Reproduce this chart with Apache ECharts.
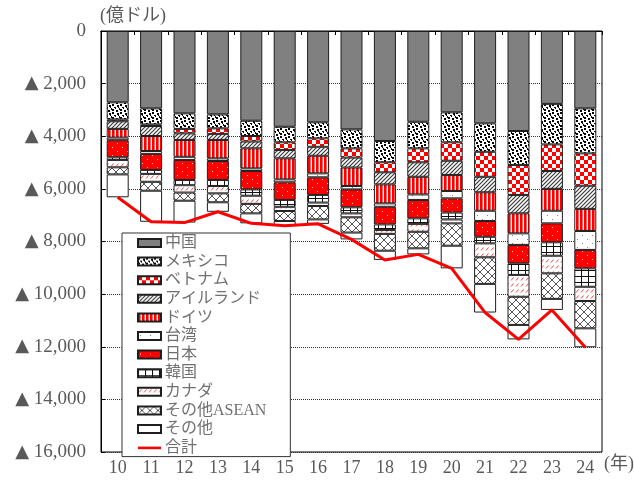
<!DOCTYPE html>
<html>
<head>
<meta charset="utf-8">
<script src="https://cdn.jsdelivr.net/npm/echarts@6/dist/echarts.min.js"></script>
<style>
  html, body { margin: 0; padding: 0; background: #fff; }
  #chart { width: 634px; height: 481px; }
</style>
</head>
<body>
<div id="chart"></div>
<script>
// 年（2010〜2024）
const years = ['10', '11', '12', '13', '14', '15', '16', '17', '18', '19', '20', '21', '22', '23', '24'];

// 国・地域別の赤字額（億ドル、正の値で保持し軸で▲表示）
const china   = [2710, 2940, 3130, 3170, 3410, 3640, 3470, 3740, 4180, 3450, 3090, 3510, 3800, 2770, 2940];
const mexico  = [650, 610, 590, 530, 580, 590, 610, 720, 810, 1010, 1140, 1080, 1290, 1540, 1710];
const vietnam = [70, 60, 170, 210, 210, 290, 320, 350, 380, 530, 700, 950, 1140, 1010, 1230];
const ireland = [290, 380, 250, 230, 260, 320, 340, 380, 460, 550, 540, 590, 700, 680, 880];
const germany = [330, 570, 640, 700, 760, 800, 670, 700, 720, 670, 610, 700, 760, 830, 840];
const taiwan  = [100, 110, 120, 100, 100, 110, 150, 130, 130, 210, 280, 390, 440, 480, 720];
const japan   = [650, 610, 760, 720, 700, 670, 670, 680, 670, 700, 540, 600, 700, 720, 700];
const korea   = [100, 150, 200, 230, 240, 260, 290, 230, 210, 210, 260, 250, 440, 510, 700];
const canada  = [280, 300, 280, 280, 310, 160, 130, 150, 150, 300, 150, 530, 830, 670, 540];
const asean   = [270, 340, 310, 340, 360, 380, 510, 580, 640, 630, 850, 1010, 1070, 970, 1040];
const others  = [870, 1180, 830, 360, 380, 180, 170, 260, 350, 230, 860, 1090, 550, 420, 720];
const total   = [6320, 7250, 7280, 6870, 7310, 7400, 7330, 7920, 8700, 8490, 9020, 10700, 11720, 10600, 12020];

// 縦軸目盛ラベル（▲はマイナスを示す）
const yTickLabels = ['0', '▲ 2,000', '▲ 4,000', '▲ 6,000', '▲ 8,000', '▲ 10,000', '▲ 12,000', '▲ 14,000', '▲ 16,000'];

// ---- 塗りパターン ----
function tile(w, h, draw) {
  const c = document.createElement('canvas');
  c.width = w; c.height = h;
  const g = c.getContext('2d');
  draw(g, w, h);
  return { image: c, repeat: 'repeat' };
}
const RED = '#ff0000';
const patterns = {
  gray: '#808080',
  confetti: tile(8, 8, (g) => {
    g.fillStyle = '#fff'; g.fillRect(0, 0, 8, 8);
    g.fillStyle = '#000';
    [[0,0,2,2],[5,1,2,2],[2,3,2,1],[7,4,1,2],[0,5,2,2],[4,6,2,2],[3,4,1,1],[6,3,1,1]].forEach(r => g.fillRect(r[0], r[1], r[2], r[3]));
  }),
  checker: tile(8, 8, (g) => {
    g.fillStyle = '#fff'; g.fillRect(0, 0, 8, 8);
    g.fillStyle = RED; g.fillRect(0, 0, 4, 4); g.fillRect(4, 4, 4, 4);
  }),
  diag: tile(4, 4, (g) => {
    g.fillStyle = '#fff'; g.fillRect(0, 0, 4, 4);
    g.strokeStyle = '#3a3a3a'; g.lineWidth = 1.2;
    g.beginPath();
    g.moveTo(-1, 5); g.lineTo(5, -1);
    g.moveTo(-1, 1); g.lineTo(1, -1);
    g.moveTo(3, 5); g.lineTo(5, 3);
    g.stroke();
  }),
  vstripe: tile(4, 4, (g) => {
    g.fillStyle = '#fff'; g.fillRect(0, 0, 4, 4);
    g.fillStyle = RED; g.fillRect(0, 0, 2.6, 4);
  }),
  dotsWhite: tile(10, 8, (g) => {
    g.fillStyle = '#fff'; g.fillRect(0, 0, 10, 8);
    g.fillStyle = '#888'; g.fillRect(2, 3, 1, 1); g.fillRect(7, 7, 1, 1);
  }),
  dotsRed: tile(10, 8, (g) => {
    g.fillStyle = RED; g.fillRect(0, 0, 10, 8);
    g.fillStyle = '#ffd0d0'; g.fillRect(2, 3, 1, 1); g.fillRect(7, 7, 1, 1);
  }),
  grid: tile(7, 6, (g) => {
    g.fillStyle = '#fff'; g.fillRect(0, 0, 7, 6);
    g.fillStyle = '#111'; g.fillRect(0, 0, 7, 1); g.fillRect(0, 0, 1, 6);
  }),
  redDash: tile(5, 6, (g) => {
    g.fillStyle = '#fff'; g.fillRect(0, 0, 5, 6);
    g.strokeStyle = '#ff4040'; g.lineWidth = 1;
    g.beginPath(); g.moveTo(1, 4.5); g.lineTo(3.5, 1.5); g.stroke();
  }),
  cross: tile(8, 8, (g) => {
    g.fillStyle = '#fff'; g.fillRect(0, 0, 8, 8);
    g.strokeStyle = '#555'; g.lineWidth = 1;
    g.beginPath();
    g.moveTo(0, 0); g.lineTo(8, 8);
    g.moveTo(0, 8); g.lineTo(8, 0);
    g.stroke();
  }),
  white: '#ffffff'
};

const barDefs = [
  ['中国', china, patterns.gray],
  ['メキシコ', mexico, patterns.confetti],
  ['ベトナム', vietnam, patterns.checker],
  ['アイルランド', ireland, patterns.diag],
  ['ドイツ', germany, patterns.vstripe],
  ['台湾', taiwan, patterns.dotsWhite],
  ['日本', japan, patterns.dotsRed],
  ['韓国', korea, patterns.grid],
  ['カナダ', canada, patterns.redDash],
  ['その他ASEAN', asean, patterns.cross],
  ['その他', others, patterns.white]
];

const FONT = '"Liberation Serif", "Times New Roman", "Noto Sans CJK JP", serif';
const LABEL_GRAY = '#595959';

const series = barDefs.map(([name, data, fill]) => ({
  name: name,
  type: 'bar',
  stack: 'deficit',
  data: data,
  barWidth: 22,
  itemStyle: { color: fill, borderColor: '#1e1e1e', borderWidth: 1 },
  emphasis: { disabled: true }
}));
series.push({
  name: '合計',
  type: 'line',
  data: total,
  symbol: 'none',
  lineStyle: { color: RED, width: 3 },
  itemStyle: { color: RED },
  z: 5,
  emphasis: { disabled: true }
});

// 凡例用の横線アイコン（上下に余白を持たせた帯）
const LINE_ICON = 'path://M0,0 M0,8 M0,3 L23,3 L23,5.6 L0,5.6 Z';

const chart = echarts.init(document.getElementById('chart'), null, { renderer: 'canvas' });
chart.setOption({
  animation: false,
  backgroundColor: '#fff',
  textStyle: { fontFamily: FONT },
  grid: { left: 101, right: 32, top: 31, bottom: 29, show: true, borderColor: '#000', borderWidth: 1, backgroundColor: 'transparent' },
  legend: {
    orient: 'vertical',
    left: 122,
    top: 233,
    backgroundColor: '#fff',
    borderColor: '#333',
    borderWidth: 1,
    padding: [1, 24, 0, 15],
    itemWidth: 23,
    itemHeight: 8,
    itemGap: 0.6,
    selectedMode: false,
    textStyle: { fontFamily: FONT, fontSize: 16, lineHeight: 18, color: '#707070', padding: [0, 0, 0, -1] },
    data: barDefs.map(d => ({ name: d[0], icon: 'rect' })).concat([
      { name: '合計', icon: LINE_ICON, itemStyle: { color: RED, borderWidth: 0 } }
    ]),
    z: 10
  },
  xAxis: [
    {
      type: 'category',
      data: years,
      position: 'bottom',
      axisLine: { show: true, lineStyle: { color: '#000', width: 1 } },
      axisTick: { show: false },
      axisLabel: { color: LABEL_GRAY, fontSize: 18, fontFamily: FONT, margin: 7 }
    },
    {
      type: 'category',
      data: years,
      position: 'top',
      axisLine: { show: true, lineStyle: { color: '#000', width: 1 } },
      axisTick: { show: true, inside: true, length: 4, lineStyle: { color: '#000' } },
      axisLabel: { show: false }
    }
  ],
  yAxis: {
    type: 'value',
    inverse: true,
    min: 0,
    max: 16000,
    interval: 2000,
    axisLine: { show: true, lineStyle: { color: '#000', width: 1 } },
    axisTick: { show: true, inside: true, length: 4, lineStyle: { color: '#000' } },
    axisLabel: {
      color: LABEL_GRAY, fontSize: 19, fontFamily: FONT, margin: 15,
      formatter: (v) => {
        const s = yTickLabels[Math.round(v / 2000)];
        return s.startsWith('▲') ? '{tri|▲}' + s.slice(1) : s;
      },
      rich: {
        tri: { fontFamily: '"DejaVu Sans"', fontSize: 18, color: LABEL_GRAY }
      }
    },
    splitLine: { show: true, lineStyle: { color: '#333', type: 'dotted', width: 1 } }
  },
  graphic: [
    { type: 'text', left: 100, top: 7, style: { text: '(億ドル)', fontFamily: FONT, fontSize: 18, fill: LABEL_GRAY } },
    { type: 'text', left: 604, top: 455, style: { text: '(年)', fontFamily: FONT, fontSize: 18, fill: LABEL_GRAY } }
  ],
  series: series
});
</script>
</body>
</html>
